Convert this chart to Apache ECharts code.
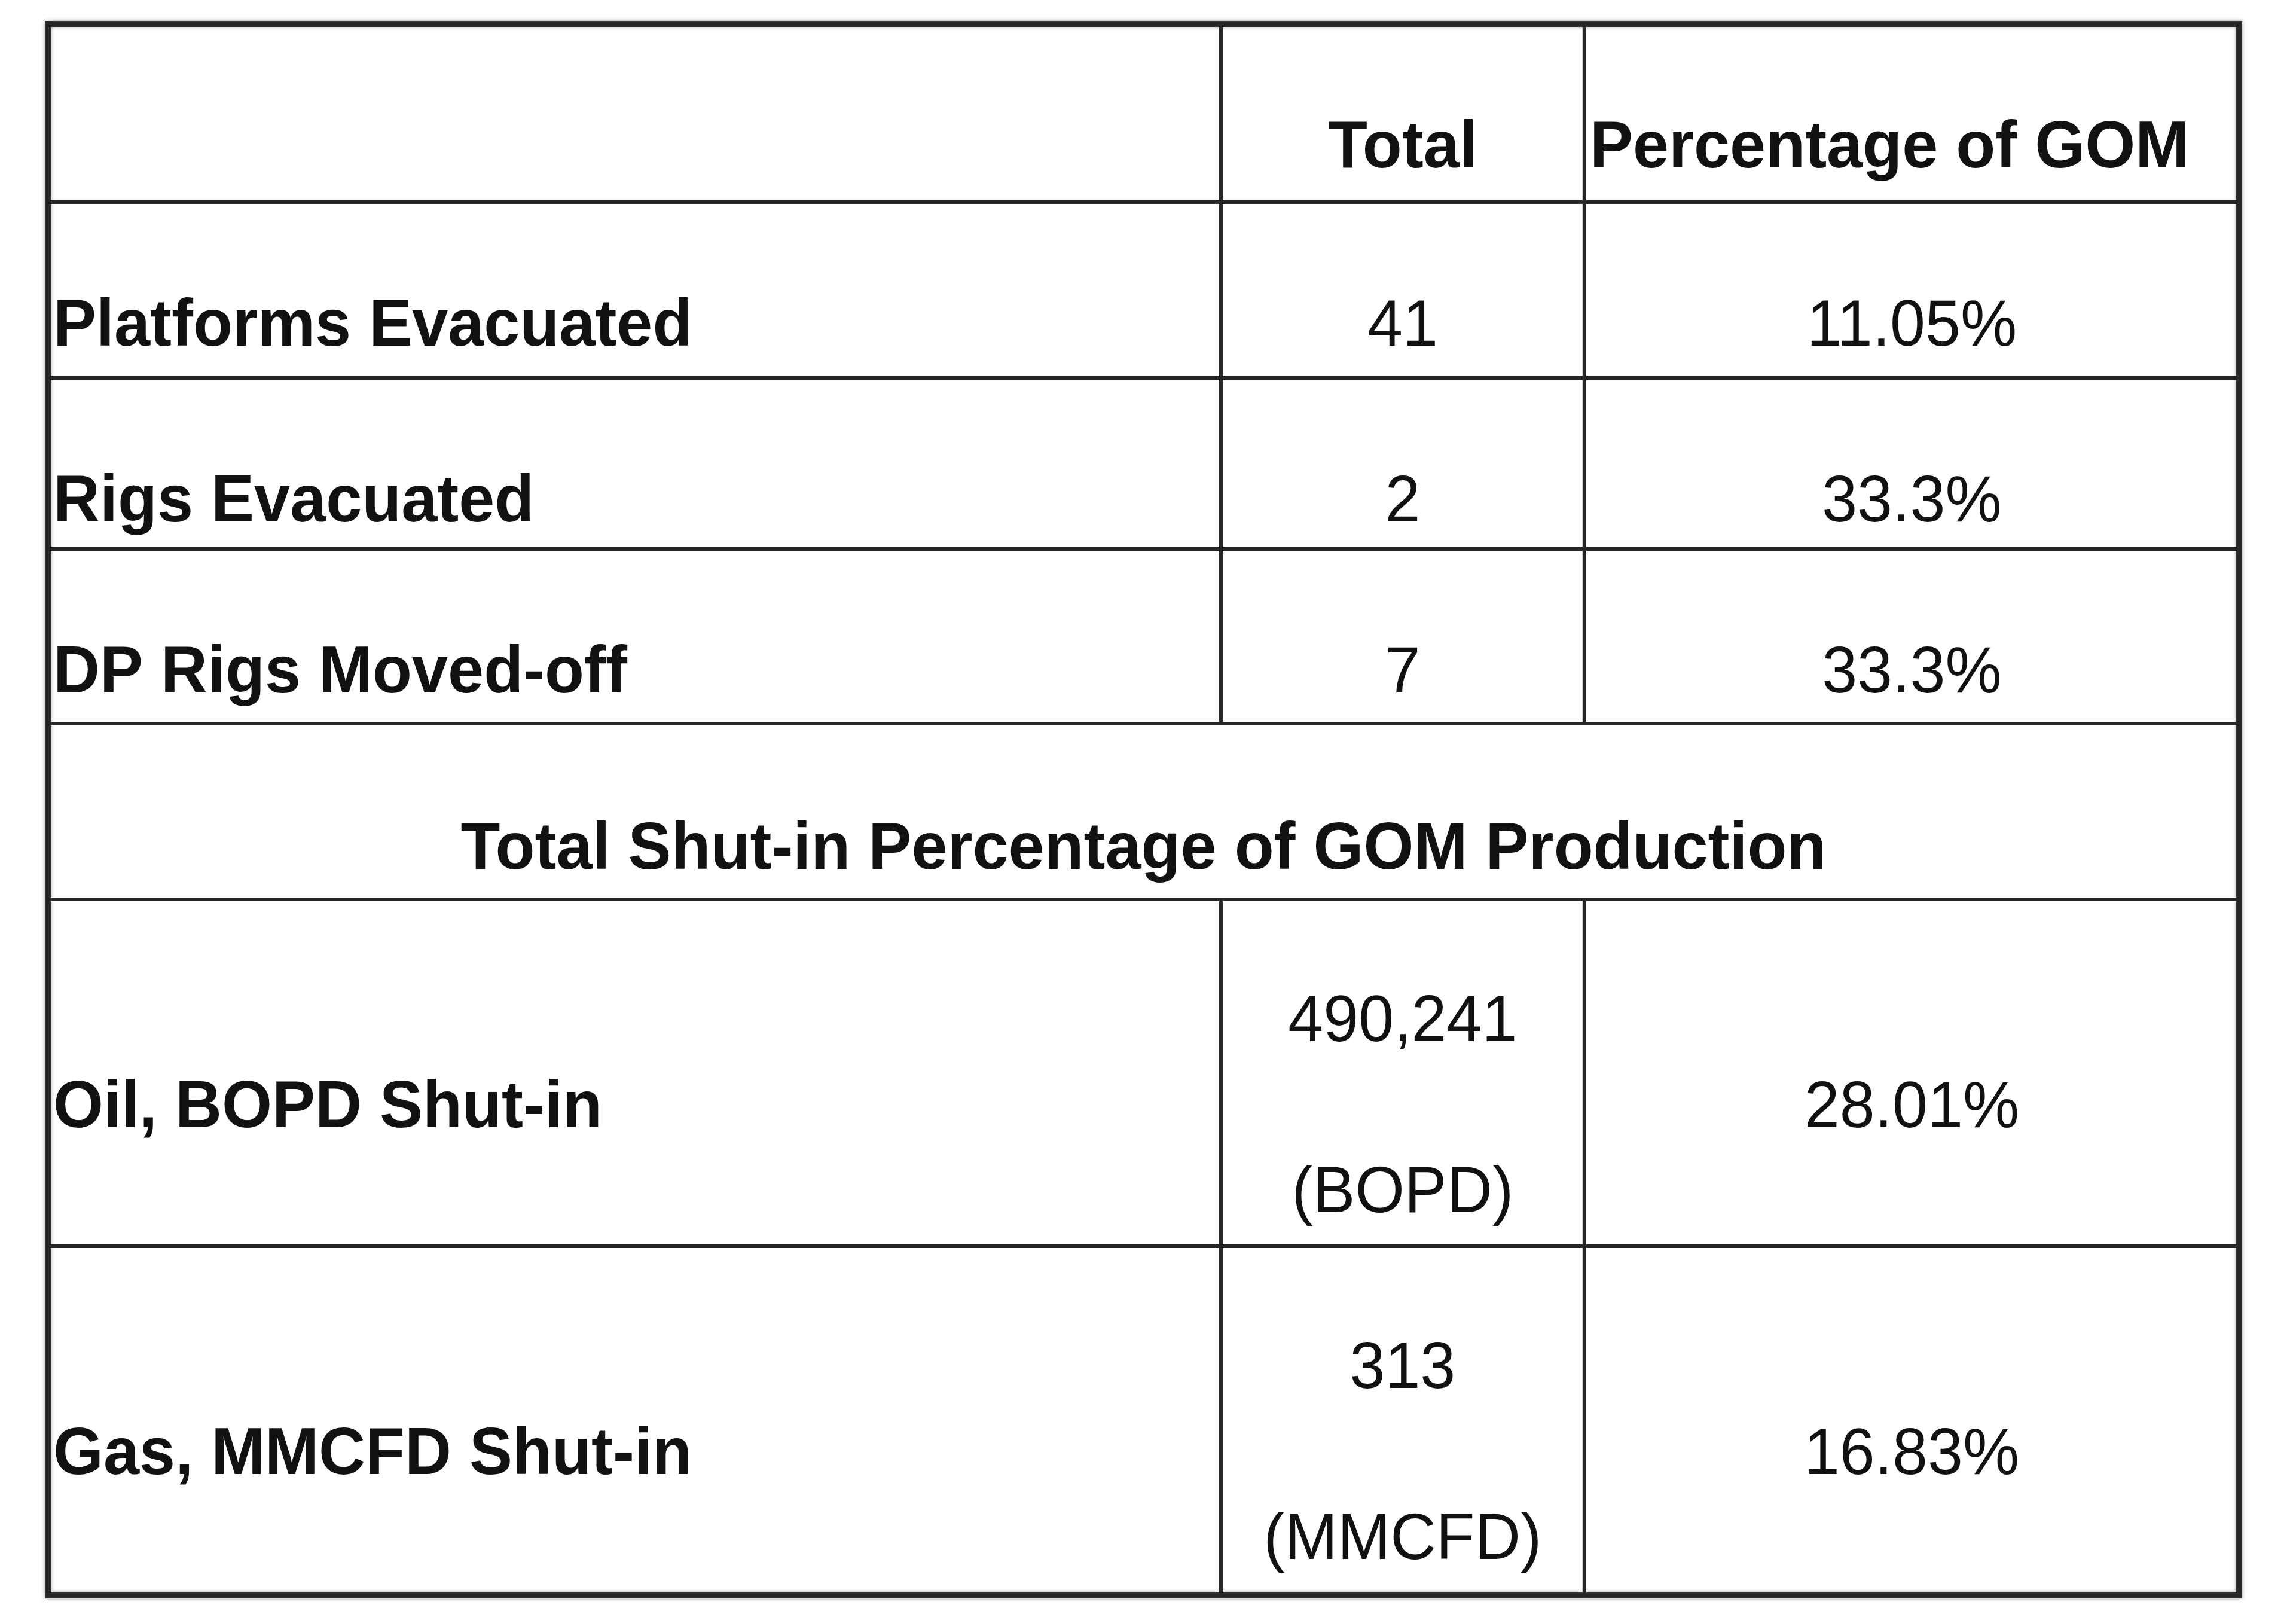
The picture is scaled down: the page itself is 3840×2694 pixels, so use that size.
<!DOCTYPE html>
<html>
<head>
<meta charset="utf-8">
<title>GOM shut-in table</title>
<script src="https://cdn.jsdelivr.net/npm/echarts@6/dist/echarts.min.js"></script>
<style>
  html, body { margin: 0; padding: 0; background: #fff; }
  #main { width: 3840px; height: 2694px; }
</style>
</head>
<body>
<div id="main"></div>
<script>
// table content
const headers = ['', 'Total', 'Percentage of GOM']
const itemNames = ['Platforms Evacuated', 'Rigs Evacuated', 'DP Rigs Moved-off']
const itemTotals = [41, 2, 7]
const itemPercents = [11.05, 33.3, 33.3]
const sectionTitle = 'Total Shut-in Percentage of GOM Production'
const prodNames = ['Oil, BOPD Shut-in', 'Gas, MMCFD Shut-in']
const prodTotals = [490241, 313]
const prodUnits = ['(BOPD)', '(MMCFD)']
const prodPercents = [28.01, 16.83]

// layout: column edges on x axis (0..100), row edges on y axis (0..9 slots)
const colEdges = [0, 53.53, 70.12, 100]
const rowEdges = [0, 1.02, 2.027, 3.007, 4.007, 5.014, 7.0, 9]
const FONT = '"Liberation Sans", Arial, sans-serif'
const BOLD = 108
const REG = 106

const fmtNum = v => v.toLocaleString('en-US')
const fmtPct = v => v + '%'

// cell list: c0,c1 column index, r0,r1 row index, lines = [{text,bold,at,align}]
// "at" = baseline offset from the top of the cell, in slots
const cells = []
let row = 0
headers.forEach((h, i) => {
  cells.push({ c0: i, c1: i + 1, r0: row, r1: row + 1,
    lines: h ? [{ text: h, bold: true, at: 0.832, align: i == 2 ? 'left' : 'center' }] : [] })
})
row++
itemNames.forEach((name, k) => {
  cells.push({ c0: 0, c1: 1, r0: row, r1: row + 1, lines: [{ text: name, bold: true, at: 0.832, align: 'left' }] })
  cells.push({ c0: 1, c1: 2, r0: row, r1: row + 1, lines: [{ text: fmtNum(itemTotals[k]), at: 0.832, align: 'center' }] })
  cells.push({ c0: 2, c1: 3, r0: row, r1: row + 1, lines: [{ text: fmtPct(itemPercents[k]), at: 0.832, align: 'center' }] })
  row++
})
cells.push({ c0: 0, c1: 3, r0: row, r1: row + 1, lines: [{ text: sectionTitle, bold: true, at: 0.84, align: 'center' }] })
row++
prodNames.forEach((name, k) => {
  cells.push({ c0: 0, c1: 1, r0: row, r1: row + 1, lines: [{ text: name, bold: true, at: 1.315, align: 'left' }] })
  cells.push({ c0: 1, c1: 2, r0: row, r1: row + 1, lines: [
    { text: fmtNum(prodTotals[k]), at: 0.822, align: 'center' },
    { text: prodUnits[k], at: 1.80, align: 'center' }
  ] })
  cells.push({ c0: 2, c1: 3, r0: row, r1: row + 1, lines: [{ text: fmtPct(prodPercents[k]), at: 1.315, align: 'center' }] })
  row++
})

const chart = echarts.init(document.getElementById('main'), null, { renderer: 'canvas' })

function renderCell(params, api) {
  const cell = cells[params.dataIndex]
  const top = rowEdges[api.value(2)]
  const x0 = api.coord([colEdges[api.value(0)], 0])[0]
  const x1 = api.coord([colEdges[api.value(1)], 0])[0]
  const y0 = api.coord([0, top])[1]
  const y1 = api.coord([0, rowEdges[api.value(3)]])[1]
  const children = [{
    type: 'rect',
    shape: { x: x0, y: y0, width: x1 - x0, height: y1 - y0 },
    style: { fill: 'none', stroke: '#262626', lineWidth: 6 },
    z2: 5
  }]
  cell.lines.forEach(l => {
    const size = l.bold ? BOLD : REG
    const base = api.coord([0, top + l.at])[1]
    children.push({
      type: 'text',
      x: l.align == 'left' ? x0 + 9 : (x0 + x1) / 2,
      y: base - size * 0.31,
      scaleY: 1.03,
      style: {
        text: l.text,
        fill: '#111',
        font: (l.bold ? 'bold ' : '') + size + 'px ' + FONT,
        align: l.align,
        verticalAlign: 'middle'
      },
      z2: 10
    })
  })
  return { type: 'group', children: children }
}

const option = {
  backgroundColor: '#fff',
  animation: false,
  grid: {
    left: 80, right: 95, top: 40, bottom: 26,
    show: true,
    borderColor: '#333',
    borderWidth: 10,
    backgroundColor: '#fff',
    shadowColor: 'rgba(0,0,0,0.35)',
    shadowBlur: 6
  },
  xAxis: { type: 'value', min: 0, max: 100, show: false },
  yAxis: { type: 'value', min: 0, max: 9, inverse: true, show: false },
  series: [{
    type: 'custom',
    renderItem: renderCell,
    encode: { x: [0, 1], y: [2, 3] },
    data: cells.map(c => [c.c0, c.c1, c.r0, c.r1]),
    clip: false
  }]
}
chart.setOption(option)
</script>
</body>
</html>
